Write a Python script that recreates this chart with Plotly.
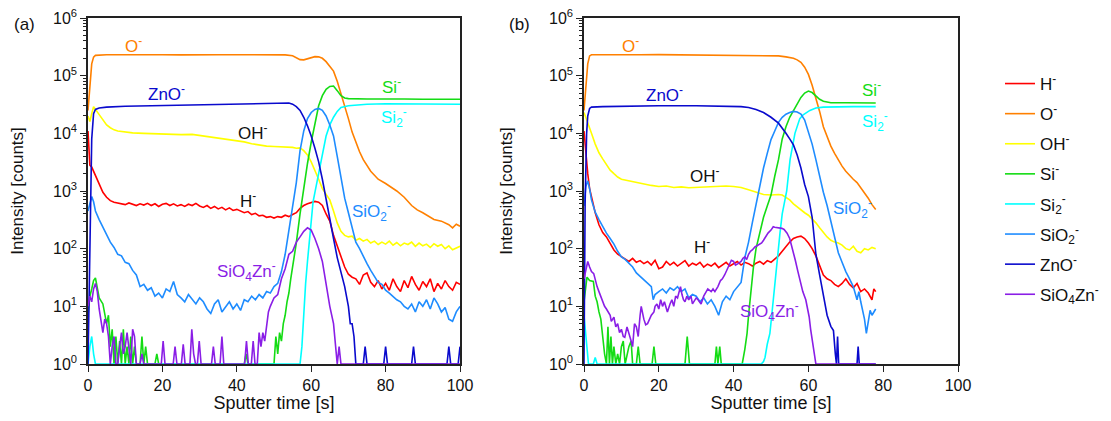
import math
import plotly.graph_objects as go

# ---------------- data: (sputter time [s], intensity [counts]) ----------------
# Panel (a)
H_a = [(0,11000),(0.5,2800),(1,2600),(1.5,2200),(2,1800),(3,1250),(4,950),(5,780),(6,680),(7,640),(8,620),(9,600),(10,580),(11,620),(12,590),(13,560),(14,600),(15,570),(16,610),(17,560),(18,600),(19,540),(20,590),(21,610),(22,560),(23,600),(24,550),(25,580),(26,540),(27,590),(28,560),(29,610),(30,550),(31,520),(32,560),(33,500),(34,540),(35,490),(36,520),(37,470),(38,510),(39,460),(40,480),(41,450),(42,420),(43,440),(44,390),(45,410),(46,370),(47,380),(48,350),(49,360),(50,340),(51,360),(52,350),(53,380),(54,360),(55,390),(56,420),(57,500),(58,560),(59,600),(60,620),(61,660),(62,640),(63,560),(64,400),(65,300),(66,170),(67,110),(68,70),(69,48),(70,36),(71,32),(72,30),(73,24),(74,35),(75,38),(76,26),(77,22),(78,28),(79,20),(80,25),(81,19),(82,30),(83,22),(84,18),(85,28),(86,21),(87,33),(88,24),(89,19),(90,27),(91,22),(92,30),(93,18),(94,25),(95,20),(96,28),(97,22),(98,19),(99,26),(100,24)]
O_a = [(0,25000),(0.5,60000),(1,160000),(1.5,210000),(2,225000),(5,230000),(10,228000),(15,232000),(20,230000),(25,229000),(30,232000),(35,230000),(40,231000),(45,230000),(50,230000),(53,229000),(55,222000),(56,205000),(57,190000),(58,188000),(59,198000),(60,208000),(61,214000),(62,212000),(63,200000),(64,175000),(65,145000),(66,120000),(67,80000),(68,50000),(69,30000),(70,18000),(71,10500),(72,7000),(73,4800),(74,3500),(76,2200),(78,1600),(80,1350),(83,1000),(85,780),(87,560),(88.5,470),(90,420),(92,350),(93,320),(95,300),(96,280),(97,260),(98,230),(99,265),(100,245)]
OH_a = [(0,20000),(0.5,16000),(1,22000),(1.5,29000),(2,26000),(3,21000),(4,17000),(5,14000),(6,12500),(7,11500),(8,11000),(10,10500),(12,10200),(15,10000),(18,9800),(20,9900),(22,9600),(25,9500),(28,9600),(30,9200),(33,8800),(36,8200),(39,7600),(42,7100),(44,6600),(46,6200),(48,6000),(50,5900),(52,5800),(54,5800),(55,5700),(56,5500),(57,5600),(58,5000),(59,4200),(60,3200),(61,2300),(62,1600),(63,1100),(64,900),(65,700),(66,450),(67,280),(68,200),(69,170),(70,160),(71,165),(72,140),(73,150),(74,135),(75,145),(76,125),(77,135),(78,118),(79,130),(80,120),(81,135),(82,115),(83,128),(84,112),(85,125),(86,118),(87,130),(88,110),(89,125),(90,112),(91,120),(92,105),(93,122),(94,110),(95,118),(96,100),(97,112),(98,96),(99,104),(100,110)]
Si_a = [(0,7),(0.5,15),(1,20),(1.5,28),(2,31),(2.5,20),(3,14),(4,11),(5,5),(5.5,7),(6,2),(6.5,4),(7,1),(7.5,3),(8,1),(8.5,2.5),(9,1),(9.5,4),(10,1),(10.5,2),(11,1),(11.5,3),(12,1),(12.5,2),(13,1),(14,1),(14.5,3),(15,1),(15.5,2),(16,1),(18,1),(18.5,1.5),(19,1),(42,1),(42.5,1.5),(43,1),(50,1),(50.5,3),(51,1.5),(51.5,3.5),(52,2.5),(52.5,5),(53,7),(53.5,12),(54,17),(54.5,30),(55,48),(56,126),(57,400),(58,1200),(59,3000),(60,7000),(61,14000),(62,30000),(63,45000),(64,58000),(65,65000),(66,66000),(67,55000),(68,45000),(69,41000),(70,40000),(75,39500),(80,40000),(85,39500),(90,39000),(95,39500),(100,39000)]
Si2_a = [(0,1),(0.5,2),(1,3),(1.5,1.5),(2,1),(56.5,1),(57,1),(57.5,2),(58,9),(58.5,25),(59,60),(59.5,150),(60,280),(60.5,650),(61,950),(62,2000),(63,4500),(64,9000),(65,14000),(66,19000),(67,24000),(68,28000),(70,30000),(72,31000),(75,32000),(80,32500),(90,32000),(100,32000)]
SiO2_a = [(0,450),(0.5,600),(1,800),(1.5,650),(2,450),(3,320),(4,240),(5,180),(6,130),(7,105),(8,80),(9,75),(10,58),(11,55),(12,42),(13,35),(14,22),(15,24),(16,19),(17,21),(18,15),(19,17),(20,14),(21,20),(22,18),(23,27),(24,16),(25,14),(26,12),(27,16),(28,13),(29,11),(30,14),(31,12),(32,9),(33,7.5),(34,11),(35,13),(36,8),(37,10),(38,12),(39,9),(40,11),(41,8.5),(42,13),(43,12),(44,15),(45,13),(46,16),(47,14),(48,18),(49,17),(50,22),(51,25),(52,40),(53,80),(54,200),(55,600),(56,1400),(57,5000),(58,11000),(59,18000),(60,23000),(61,26000),(62,27000),(63,25000),(64,20000),(65,14000),(66,9000),(67,4000),(68,1800),(69,750),(70,420),(71,220),(72,130),(73,100),(74,72),(75,55),(76,42),(77,33),(78,26),(79,24),(80,19),(81,17),(82,15),(83,13),(84,12),(85,10),(86,9),(87,11),(88,8),(89,12),(90,10),(91,13),(92,9),(93,14),(94,11),(95,8),(96,9.5),(97,6),(98,5.5),(99,8),(100,10)]
ZnO_a = [(0,1),(0.5,200),(1,8000),(1.5,22000),(2,26000),(3,27500),(5,28500),(10,29500),(20,30500),(30,31500),(40,32500),(50,33500),(54,33500),(55,32000),(56,29000),(57,25000),(58,19000),(59,13500),(60,9000),(61,5500),(62,3200),(63,1600),(64,700),(65,320),(66,150),(67,70),(68,40),(69,22),(70,10),(70.5,5),(71,5),(71.5,3),(72,1),(74,1),(74.5,2),(75,1),(79.5,1),(80,2),(80.5,1),(87,1),(87.5,2),(88,1),(96.5,1),(97,2),(97.5,1),(99.5,1),(100,2)]
SiO4Zn_a = [(0,10),(0.5,15),(1,12),(1.5,20),(2,25),(2.5,18),(3,9),(3.5,6),(4,3.5),(4.5,6),(5,5),(5.5,3),(6,1),(6.5,2),(7,3),(7.5,1),(8,1),(8.5,2),(9,3.5),(9.5,1.5),(10,2),(10.5,3.5),(11,2),(11.5,1),(12,4),(12.5,3),(13,1),(14,1),(14.5,1.5),(15,1),(19.7,1),(20.2,2.5),(20.7,1),(22.9,1),(23.4,2),(23.9,1),(25.1,1),(25.6,2.2),(26.1,1),(27.4,1),(27.9,4),(28.4,1.5),(28.9,1),(29.4,1),(29.9,2.5),(30.4,1),(33.2,1),(33.7,2),(34.2,1),(35.5,1),(36,3),(36.5,1),(42.1,1),(42.6,2.5),(43.1,1),(43.9,1),(44.4,2.5),(44.9,1),(45.5,1),(46,3.5),(46.5,2),(47,3.5),(47.5,2.5),(48,5),(48.5,8),(49,10),(50,14),(51,16),(52,30),(53,45),(54,80),(55,90),(56,130),(57,160),(58,200),(59,230),(60,210),(61,150),(62,100),(63,60),(64,25),(65,10),(66,5),(66.5,2.5),(67,1),(67.5,2),(68,1),(100,1)]

# Panel (b)
H_b = [(0,11000),(0.5,4000),(1,2000),(1.5,1100),(2,800),(2.5,600),(3,420),(4,260),(5,190),(6,160),(7,120),(8,95),(9,80),(10,72),(11,65),(12,60),(13,68),(14,58),(15,62),(16,55),(17,60),(18,52),(19,63),(20,45),(21,48),(22,60),(23,52),(24,58),(25,50),(26,55),(27,62),(28,50),(29,56),(30,52),(31,58),(32,48),(33,54),(34,50),(35,56),(36,47),(37,52),(38,58),(39,50),(40,55),(41,60),(42,52),(43,58),(44,55),(45,50),(46,56),(47,60),(48,54),(49,62),(50,58),(51,65),(52,75),(53,90),(54,110),(55,130),(56,150),(57,160),(58,165),(59,150),(60,125),(61,100),(62,75),(63,50),(64,35),(65,30),(66,28),(67,24),(68,22),(69,25),(70,30),(71,24),(72,21),(73,25),(74,18),(75,20),(76,17),(77,13),(77.5,20),(78,18)]
O_b = [(0,25000),(0.5,60000),(1,160000),(1.5,220000),(2,230000),(5,230000),(10,228000),(15,231000),(20,232000),(25,230000),(30,231000),(35,230000),(40,229000),(45,227000),(50,225000),(52,220000),(54,212000),(55,208000),(56,200000),(57,188000),(58,170000),(59,140000),(60,105000),(61,68000),(62,42000),(63,24000),(64,13000),(65,8500),(66,6000),(67,4500),(68,3400),(69,2700),(70,2200),(71,1850),(72,1600),(73,1400),(74,1150),(75,950),(76,750),(77,580),(78,480)]
OH_b = [(0,23000),(0.5,19000),(1,15000),(1.5,13000),(2,10000),(3,6500),(4,4600),(5,3600),(6,2800),(7,2300),(8,2000),(9,1750),(10,1600),(12,1500),(14,1400),(16,1320),(18,1250),(20,1200),(22,1220),(24,1150),(26,1180),(28,1140),(30,1160),(32,1150),(34,1180),(36,1200),(38,1220),(40,1200),(42,1150),(44,1050),(46,950),(48,870),(50,850),(52,870),(53,850),(54,780),(55,700),(56,600),(57,530),(58,470),(59,420),(60,380),(61,330),(62,280),(63,230),(64,190),(65,160),(66,140),(67,130),(68,125),(69,115),(70,100),(71,95),(72,110),(73,90),(74,85),(75,100),(76,95),(77,105),(78,100)]
Si_b = [(0,12),(0.5,25),(0.8,32),(1.5,28),(2.5,27),(3,15),(3.5,12),(4,8),(4.5,6),(5,3),(5.5,1.5),(6,1),(6.4,4.4),(6.8,1),(7.2,3),(7.6,1),(8,2),(8.5,1),(9,1.5),(9.5,1),(10,2),(10.5,2.5),(11,1),(12,2),(12.6,2.5),(13,1),(14,1),(14.5,2),(15,1),(18.2,1),(18.7,2),(19.2,1),(27,1),(27.6,3),(28.2,1),(35,1),(35.4,2),(35.8,1),(36.3,2),(36.7,1),(42.3,1),(43,1.8),(43.6,3.4),(44,7),(44.4,13),(45,30),(45.3,48),(46,100),(47,190),(48,350),(49,550),(50,850),(51,1800),(52,3500),(53,8000),(54,13000),(55,19000),(56,25000),(57,33000),(58,42000),(59,50000),(60,54000),(61,51000),(62,44000),(63,39000),(64,36000),(65,35000),(66,34000),(70,34000),(74,33500),(78,33500)]
Si2_b = [(0,7),(0.4,4),(0.8,2),(1.2,1),(2.5,1),(3,1.3),(3.5,1),(47.4,1),(48,1.1),(48.4,1.3),(49,2.2),(49.7,3.4),(50.2,7),(50.6,13),(51,25),(51.5,48),(52,100),(52.4,186),(53,400),(53.7,700),(54.2,1000),(55.1,3500),(56.4,10000),(57.7,18000),(58.6,21000),(60.4,25000),(62,27500),(64,28500),(68,29000),(72,29000),(78,29000)]
SiO2_b = [(0,550),(0.5,1200),(1,1500),(1.5,1100),(2,700),(2.5,530),(3,430),(4,320),(5,240),(6,186),(7,150),(8,120),(9,90),(10,72),(11,65),(12,55),(13,48),(14,38),(15,33),(16,28),(17,25),(18,22),(18.5,13),(19,16),(20,18),(21,20),(22,17),(23,21),(24,19),(25,22),(26,18),(27,20),(28,14),(29,16),(30,15),(31,12),(32,14),(33,11),(34,13),(35,10),(36,7),(37,12),(38,15),(39,13),(40,18),(41,22),(42,26),(43,70),(44,130),(45,280),(46,600),(47,1300),(48,2500),(49,4500),(50,7800),(51,11000),(52,15500),(53,19000),(54,21500),(55,23000),(56,24000),(57,23500),(58,21500),(59,17000),(60,11000),(61,6500),(62,3500),(63,1800),(64,950),(65,560),(66,300),(67,160),(68,85),(69,58),(70,40),(71,30),(72,22),(73,13),(73.5,18),(74,12),(75,6),(75.5,3.4),(76,5),(76.5,8.5),(77,7),(78,9)]
ZnO_b = [(0,1),(0.3,600),(0.7,10000),(1,20000),(1.5,27000),(2,28500),(5,29000),(10,29500),(20,30000),(30,30000),(40,29500),(42,29000),(44,28000),(46,26000),(48,23000),(50,19000),(52,15000),(53,12500),(54,10000),(55,8000),(56,6300),(57,4200),(58,2500),(59,1300),(60,800),(61,350),(61.5,180),(62,80),(63,35),(64,15),(65,7),(66,4.5),(66.7,3.8),(67.2,1.5),(67.5,1),(67.8,3),(68.1,1),(73,1),(73.3,2),(73.6,1),(78,1)]
SiO4Zn_b = [(0,30),(0.5,45),(1,60),(1.5,48),(2,40),(2.6,37),(3,28),(3.5,22),(4,18),(4.4,15),(5,12),(5.5,10),(6,9),(6.4,8),(7,7),(7.3,5.5),(8,6.5),(8.5,4.4),(9,5),(9.5,3.5),(10,4),(10.5,3),(10.9,2.9),(11.5,4.4),(12,3.5),(12.6,2.5),(13,2),(13.5,5),(14,4.4),(14.5,3),(15,7),(15.3,10),(16,6),(16.5,4.8),(17,5),(17.5,6),(18,7),(18.7,8),(19,10),(19.5,11),(20,9),(20.5,13),(21,10),(21.5,12),(22,9),(22.3,8),(23,11),(23.5,13),(24,10),(24.5,15),(25,14),(25.8,22),(26.2,16),(26.6,13),(27,12),(27.5,15),(28,13),(28.6,15),(29,11),(30,14),(30.5,13),(31,12),(31.3,11),(32,15),(32.5,17),(33.1,20),(34,18),(34.5,20),(35,18),(35.8,22),(36.5,28),(37,30),(37.6,35),(38,40),(38.5,45),(39,52),(39.4,63),(40,60),(40.5,52),(41.2,55),(42,60),(42.5,68),(43,72),(43.5,65),(44,80),(44.5,90),(45,95),(45.7,107),(46.5,115),(47,120),(47.5,126),(48,140),(48.5,160),(49.2,186),(50,210),(50.6,240),(51,235),(52,230),(52.9,225),(53.5,215),(54.3,186),(55,150),(55.6,110),(56,85),(56.5,63),(57.2,40),(57.9,25),(58.5,18),(59.3,13),(60.2,6.6),(60.6,4),(61.1,2.5),(61.5,1.5),(62,1),(78,1)]

species = ["H<sup>-</sup>", "O<sup>-</sup>", "OH<sup>-</sup>", "Si<sup>-</sup>",
           "Si<sub>2</sub><sup>-</sup>", "SiO<sub>2</sub><sup>-</sup>",
           "ZnO<sup>-</sup>", "SiO<sub>4</sub>Zn<sup>-</sup>"]
colors = ["#FF0000", "#FF8000", "#FFFF00", "#14DC14", "#00FFFF", "#1E8CFF", "#0A0ACD", "#8A1EE6"]
panel_a = [H_a, O_a, OH_a, Si_a, Si2_a, SiO2_a, ZnO_a, SiO4Zn_a]
panel_b = [H_b, O_b, OH_b, Si_b, Si2_b, SiO2_b, ZnO_b, SiO4Zn_b]

# axis ticks
x_ticks = [0, 20, 40, 60, 80, 100]
y_ticks = [1, 10, 100, 1e3, 1e4, 1e5, 1e6]
y_tick_text = ["10<sup>0</sup>", "10<sup>1</sup>", "10<sup>2</sup>", "10<sup>3</sup>",
               "10<sup>4</sup>", "10<sup>5</sup>", "10<sup>6</sup>"]
y_minor = [m * d for d in y_ticks[:-1] for m in range(2, 10)]

# in-plot species labels: (text, time, intensity, colour index or None for black)
labels_a = [("O<sup>-</sup>", 12.1, 3.4e5, 1), ("ZnO<sup>-</sup>", 21.2, 5.0e4, 6),
            ("OH<sup>-</sup>", 44.4, 1.05e4, None), ("H<sup>-</sup>", 43.0, 6.9e2, None),
            ("Si<sup>-</sup>", 81.7, 6.6e4, 3), ("Si<sub>2</sub><sup>-</sup>", 82.3, 1.9e4, 4),
            ("SiO<sub>2</sub><sup>-</sup>", 76.3, 4.4e2, 5), ("SiO<sub>4</sub>Zn<sup>-</sup>", 42.5, 41, 7)]
labels_b = [("O<sup>-</sup>", 12.3, 3.4e5, 1), ("ZnO<sup>-</sup>", 21.4, 4.8e4, 6),
            ("OH<sup>-</sup>", 32.4, 1.9e3, None), ("H<sup>-</sup>", 31.6, 1.12e2, None),
            ("Si<sup>-</sup>", 77.0, 5.9e4, 3), ("Si<sub>2</sub><sup>-</sup>", 77.8, 1.6e4, 4),
            ("SiO<sub>2</sub><sup>-</sup>", 71.7, 4.9e2, 5), ("SiO<sub>4</sub>Zn<sup>-</sup>", 49.7, 8.3, 7)]

FONT = "Liberation Sans, Arial, sans-serif"
INK = "#111111"
W, H = 1095, 405   # page body keeps an 8 px margin inside the 1111x421 window

fig = go.Figure()
for panel, xa, ya, show in [(panel_a, "x", "y", True), (panel_b, "x2", "y2", False)]:
    for i, series in enumerate(panel):
        t = [p[0] for p in series]
        v = [p[1] for p in series]
        fig.add_trace(go.Scatter(x=t, y=v, mode="lines", name=species[i],
                                 line=dict(color=colors[i], width=1.6),
                                 xaxis=xa, yaxis=ya, showlegend=show,
                                 legendgroup=species[i]))

ax_common = dict(showline=True, linecolor="#222222", linewidth=1.5, mirror=True,
                 ticks="outside", tickcolor="#222222", ticklen=6, tickwidth=1.3,
                 showgrid=False, zeroline=False, automargin=False,
                 ticklabeloverflow="allow",
                 tickfont=dict(family=FONT, size=16, color=INK))
xax = dict(ax_common, range=[0, 100], tickmode="array", tickvals=x_ticks,
           title=dict(text="Sputter time [s]", font=dict(family=FONT, size=18, color=INK), standoff=8))
yax = dict(ax_common, type="log", range=[0, 6], tickmode="array", tickvals=y_ticks, ticktext=y_tick_text,
           minor=dict(tickmode="array", tickvals=y_minor, ticks="outside", ticklen=3,
                      tickcolor="#222222", showgrid=False),
           title=dict(text="Intensity [counts]", font=dict(family=FONT, size=17, color=INK), standoff=32))

ann = []
for labels, xr, yr in [(labels_a, "x", "y"), (labels_b, "x2", "y2")]:
    for text, tx, ty, ci in labels:
        ann.append(dict(text=text, x=tx, y=math.log10(ty), xref=xr, yref=yr, showarrow=False,
                        xanchor="center", yanchor="middle",
                        font=dict(family=FONT, size=17, color=colors[ci] if ci is not None else INK)))
for text, px in [("(a)", 16), ("(b)", 511)]:
    ann.append(dict(text=text, x=px / W, y=1 - 17 / H, xref="paper", yref="paper", showarrow=False,
                    xanchor="center", yanchor="middle", font=dict(family=FONT, size=17, color=INK)))

fig.update_layout(
    width=W, height=H,
    margin=dict(l=0, r=0, t=0, b=0, autoexpand=False),
    paper_bgcolor="white", plot_bgcolor="white",
    font=dict(family=FONT, size=16, color=INK),
    xaxis=dict(xax, domain=[80 / W, 452 / W], anchor="y"),
    yaxis=dict(yax, domain=[1 - 356 / H, 1 - 10 / H], anchor="x"),
    xaxis2=dict(xax, domain=[576 / W, 950 / W], anchor="y2"),
    yaxis2=dict(yax, domain=[1 - 356 / H, 1 - 10 / H], anchor="x2"),
    legend=dict(x=992 / W, y=1 - 58 / H, xanchor="left", yanchor="top",
                font=dict(family=FONT, size=17, color=INK),
                tracegroupgap=5, bgcolor="rgba(0,0,0,0)"),
    annotations=ann,
    showlegend=True,
)

fig.write_html("out.html")
